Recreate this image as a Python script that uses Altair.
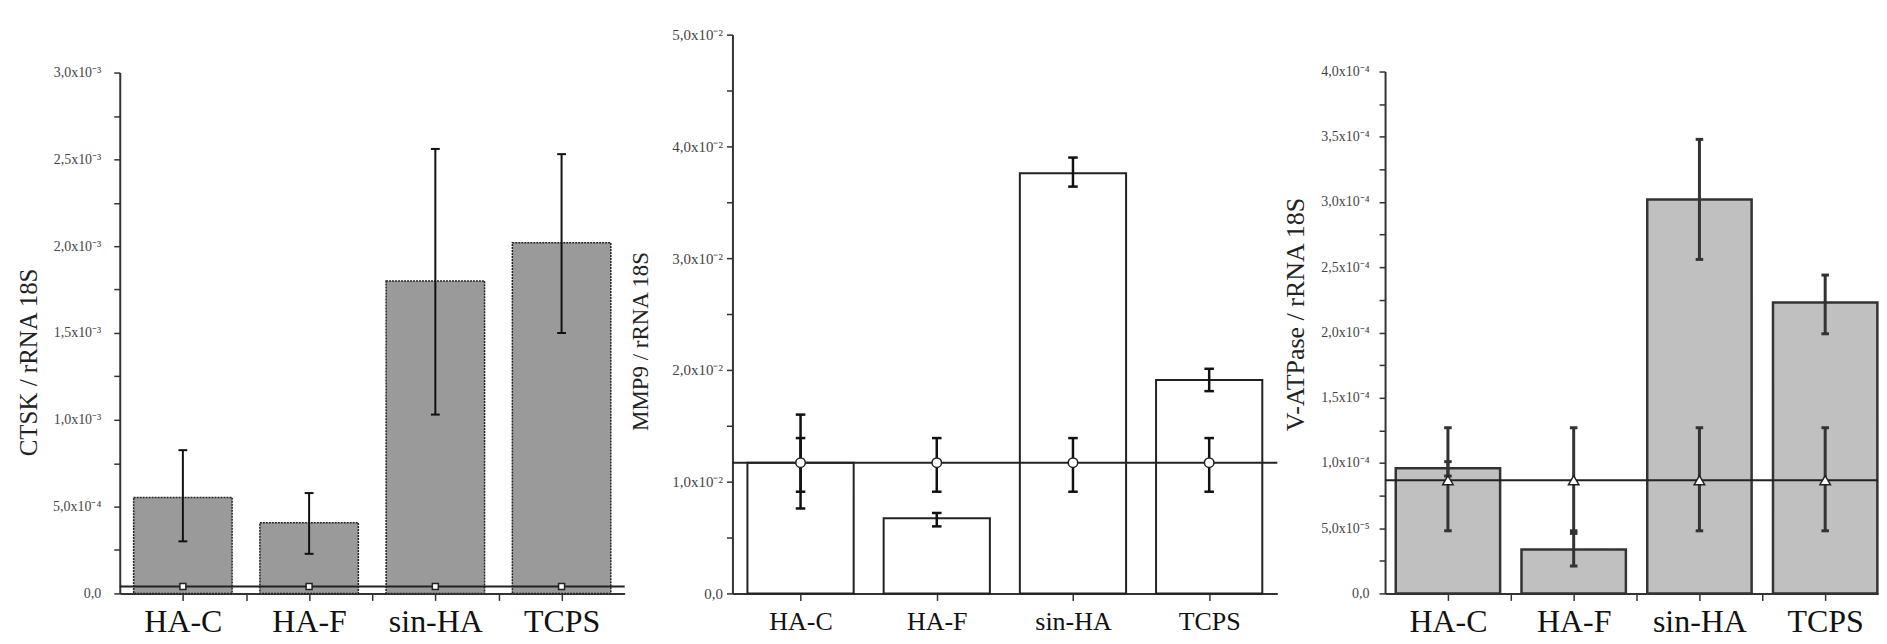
import altair as alt
import pandas as pd

categories = ["HA-C", "HA-F", "sin-HA", "TCPS"]
positions = [1, 2, 3, 4]

# CTSK / rRNA 18S  (units of 1e-3)
ctsk_mean = [0.553, 0.407, 1.80, 2.02]
ctsk_lo = [0.30, 0.228, 1.03, 1.50]
ctsk_hi = [0.825, 0.578, 2.56, 2.53]
ctsk_ctrl = [0.04, 0.04, 0.04, 0.04]
ctsk_ctrl_lo = [0.04, 0.04, 0.04, 0.04]
ctsk_ctrl_hi = [0.04, 0.04, 0.04, 0.04]
ctsk_ticks = [0, 0.25, 0.5, 0.75, 1.0, 1.25, 1.5, 1.75, 2.0, 2.25, 2.5, 2.75, 3.0]
ctsk_major = [0, 0.5, 1.0, 1.5, 2.0, 2.5, 3.0]
ctsk_labels = ["0,0", "5,0x10⁻⁴", "1,0x10⁻³", "1,5x10⁻³", "2,0x10⁻³", "2,5x10⁻³", "3,0x10⁻³"]

# MMP9 / rRNA 18S  (units of 1e-2)
mmp9_mean = [1.17, 0.673, 3.76, 1.91]
mmp9_lo = [0.76, 0.60, 3.64, 1.81]
mmp9_hi = [1.60, 0.72, 3.90, 2.01]
mmp9_ctrl = [1.17, 1.17, 1.17, 1.17]
mmp9_ctrl_lo = [0.91, 0.91, 0.91, 0.91]
mmp9_ctrl_hi = [1.39, 1.39, 1.39, 1.39]
mmp9_ticks = [0, 0.5, 1, 1.5, 2, 2.5, 3, 3.5, 4, 4.5, 5]
mmp9_major = [0, 1, 2, 3, 4, 5]
mmp9_labels = ["0,0", "1,0x10⁻²", "2,0x10⁻²", "3,0x10⁻²", "4,0x10⁻²", "5,0x10⁻²"]

# V-ATPase / rRNA 18S  (units of 1e-4)
vat_mean = [0.959, 0.337, 3.02, 2.23]
vat_lo = [0.90, 0.21, 2.56, 1.99]
vat_hi = [1.01, 0.46, 3.48, 2.44]
vat_ctrl = [0.868, 0.868, 0.868, 0.868]
vat_ctrl_lo = [0.48, 0.48, 0.48, 0.48]
vat_ctrl_hi = [1.27, 1.27, 1.27, 1.27]
vat_ticks = [0, 0.25, 0.5, 0.75, 1.0, 1.25, 1.5, 1.75, 2.0, 2.25, 2.5, 2.75, 3.0,
             3.25, 3.5, 3.75, 4.0]
vat_major = [0, 0.5, 1.0, 1.5, 2.0, 2.5, 3.0, 3.5, 4.0]
vat_labels = ["0,0", "5,0x10⁻⁵", "1,0x10⁻⁴", "1,5x10⁻⁴", "2,0x10⁻⁴", "2,5x10⁻⁴",
              "3,0x10⁻⁴", "3,5x10⁻⁴", "4,0x10⁻⁴"]

H = 560
SERIF = "Liberation Serif"


def lab_expr(vals, labs):
    parts = [f"datum.value == {v} ? '{l}'" for v, l in zip(vals, labs)]
    return " : ".join(parts) + " : ''"


def make_panel(mean, lo, hi, ctrl, clo, chi, cfg):
    df = pd.DataFrame({"cat": categories, "pos": positions, "mean": mean, "lo": lo,
                       "hi": hi, "ctrl": ctrl, "clo": clo, "chi": chi})
    xs = alt.Scale(domain=cfg["xdom"], nice=False, zero=False)
    ys = alt.Scale(domain=[0, cfg["ymax"]], range=[H, H - cfg["ypx"]], nice=False, zero=False)
    xaxis = alt.Axis(values=cfg["xticks"], labelExpr=lab_expr(positions, categories),
                     title=None, grid=False, domainColor="#333", domainWidth=2,
                     tickColor="#333", tickWidth=1.5, tickSize=7,
                     labelFont=SERIF, labelFontSize=cfg["xfs"], labelColor="#111",
                     labelFontWeight=cfg["xfw"],
                     labelPadding=cfg["xlp"], labelFlush=False, labelOverlap=False)
    yaxis = alt.Axis(values=cfg["yticks"], labelExpr=lab_expr(cfg["ymajor"], cfg["ylabels"]),
                     title=cfg["title"], titleFont=SERIF, titleFontSize=cfg["tfs"],
                     titleFontWeight="normal", titleColor="#222", titleAngle=-90,
                     titleX=cfg["tx"], titleY=cfg["ty"], titleAlign="center",
                     titleBaseline="middle",
                     grid=False, domainColor="#333", domainWidth=2,
                     tickColor="#333", tickWidth=1.5, tickSize=6,
                     labelFont=SERIF, labelFontSize=cfg["yfs"], labelColor="#444",
                     labelPadding=cfg["ylp"], labelFlush=False, labelOverlap=False)

    def X(f):
        return alt.X(f, type="quantitative", scale=xs, axis=xaxis)

    def Y(f):
        return alt.Y(f, type="quantitative", scale=ys, axis=yaxis)

    hw = cfg["hw"]
    cw = cfg["cw"]
    base = alt.Chart(df).transform_calculate(
        xl=f"datum.pos - {hw}", xr=f"datum.pos + {hw}",
        cl=f"datum.pos - {cw}", cr=f"datum.pos + {cw}", base="0")

    bars = base.mark_bar(fill=cfg["fill"], stroke=cfg["stroke"],
                         strokeWidth=cfg["sw"], strokeDash=cfg.get("dash", [1, 0])).encode(
        x=X("xl"), x2="xr", y=Y("mean"), y2="base:Q")
    ec = cfg["ecolor"]
    ew = cfg["ew"]
    err = base.mark_rule(color=ec, strokeWidth=ew).encode(x=X("pos"), y=Y("lo"), y2="hi")
    cap_hi = base.mark_rule(color=ec, strokeWidth=ew).encode(x=X("cl"), x2="cr", y=Y("hi"))
    cap_lo = base.mark_rule(color=ec, strokeWidth=ew).encode(x=X("cl"), x2="cr", y=Y("lo"))
    cline = base.mark_rule(color="#222", strokeWidth=2).encode(y=Y("mean(ctrl)"))
    layers = [bars, err, cap_hi, cap_lo, cline]
    if cfg["ctrl_err"]:
        cerr = base.mark_rule(color=ec, strokeWidth=ew).encode(x=X("pos"), y=Y("clo"), y2="chi")
        ccap_hi = base.mark_rule(color=ec, strokeWidth=ew).encode(x=X("cl"), x2="cr", y=Y("chi"))
        ccap_lo = base.mark_rule(color=ec, strokeWidth=ew).encode(x=X("cl"), x2="cr", y=Y("clo"))
        layers += [cerr, ccap_hi, ccap_lo]
    pts = base.mark_point(shape=cfg["shape"], size=cfg["msize"], filled=True, fill="white",
                          stroke="#222", strokeWidth=1.5, opacity=1).encode(
        x=X("pos"), y=Y("ctrl"))
    layers.append(pts)
    return alt.layer(*layers).properties(width=cfg["width"], height=H)


p1 = make_panel(ctsk_mean, ctsk_lo, ctsk_hi, ctsk_ctrl, ctsk_ctrl_lo, ctsk_ctrl_hi, dict(
    xdom=[0.5, 4.5], width=506, ymax=3.0, ypx=522, yticks=ctsk_ticks, ymajor=ctsk_major,
    ylabels=ctsk_labels, title="CTSK / rRNA 18S", tfs=25, tx=-91, ty=328, yfs=14, ylp=13,
    xticks=[1, 1.5, 2, 2.5, 3, 3.5, 4], xfs=32, xfw="normal", xlp=6, hw=0.39, cw=0.035,
    fill="#9a9a9a", stroke="#222", sw=1.5, dash=[2, 1], ecolor="#111", ew=2,
    ctrl_err=False, shape="square", msize=36))

p2 = make_panel(mmp9_mean, mmp9_lo, mmp9_hi, mmp9_ctrl, mmp9_ctrl_lo, mmp9_ctrl_hi, dict(
    xdom=[0.5, 4.5], width=546, ymax=5.0, ypx=560, yticks=mmp9_ticks, ymajor=mmp9_major,
    ylabels=mmp9_labels, title="MMP9 / rRNA 18S", tfs=23, tx=-92, ty=307, yfs=15, ylp=4,
    xticks=[1, 2, 3, 4], xfs=26, xfw="normal", xlp=8, hw=0.39, cw=0.035,
    fill="white", stroke="#222", sw=2, ecolor="#111", ew=2.5,
    ctrl_err=True, shape="circle", msize=90))

p3 = make_panel(vat_mean, vat_lo, vat_hi, vat_ctrl, vat_ctrl_lo, vat_ctrl_hi, dict(
    xdom=[0.5, 4.42], width=494, ymax=4.0, ypx=523, yticks=vat_ticks, ymajor=vat_major,
    ylabels=vat_labels, title="V-ATPase / rRNA 18S", tfs=26, tx=-90, ty=280, yfs=14, ylp=10,
    xticks=[1, 1.5, 2, 2.5, 3, 3.5, 4], xfs=32, xfw="normal", xlp=6, hw=0.415, cw=0.03,
    fill="#c0c0c0", stroke="#333", sw=2.5, ecolor="#333", ew=3,
    ctrl_err=True, shape="triangle-up", msize=110))

chart = alt.hconcat(p1, p2, p3, spacing=108, bounds="flush").configure_view(
    stroke=None).properties(padding={"left": 9, "top": 19, "right": 0, "bottom": 0},
                            background="white")

chart.save("out.html", embed_options={"renderer": "svg", "actions": False})
